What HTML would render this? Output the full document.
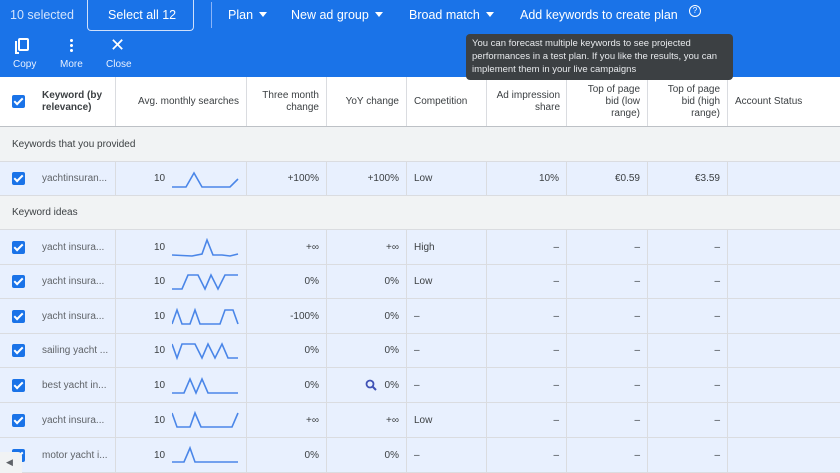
<!DOCTYPE html>
<html><head><meta charset="utf-8"><style>
*{box-sizing:border-box;margin:0;padding:0}
body{width:840px;height:473px;overflow:hidden;font-family:"Liberation Sans",Arial,sans-serif;background:#fff;position:relative;color:#3c4043}
.top{position:absolute;left:0;top:0;width:840px;height:77px;background:#1a73e8;color:#fff}
.top span{position:absolute;font-size:12.5px}
.tri{display:inline-block;width:0;height:0;border-left:4px solid transparent;border-right:4px solid transparent;border-top:5px solid #fff;margin-left:6px;vertical-align:2px}
.sel{position:absolute;left:87px;top:0;width:107px;height:31px;border:1px solid #cfe0fb;border-top:none;border-radius:0 0 4px 4px}
.top .ico{font-size:10px;color:#e8f0fe;text-align:center}
.tip{position:absolute;left:466px;top:34px;width:267px;height:46px;background:#3c4043;border-radius:4px;color:#e8eaed;font-size:9.5px;line-height:13px;padding:3px 6px;z-index:5}
.row{position:absolute;left:0;width:840px;display:flex;border-bottom:1px solid #dadce0}
.row>div{flex:none;border-right:1px solid #dadce0;font-size:10px;display:flex;align-items:center;padding:0 7px;position:relative;white-space:nowrap}
.hdr>div{white-space:normal}
.r{justify-content:flex-end}
.hdr div{font-size:10px;color:#3c4043;line-height:12px}
.w0{width:116px}.w1{width:131px}.w2{width:80px}.w3{width:80px}.w4{width:80px}.w5{width:80px}.w6{width:81px}.w7{width:80px}.w8{width:112px;border-right:none!important}
.cb{position:absolute;left:12px;width:13px;height:13px;background:#1a73e8;border-radius:2px}
.cb:after{content:"";position:absolute;left:4px;top:1px;width:3px;height:7px;border:solid #fff;border-width:0 2px 2px 0;transform:rotate(45deg)}
.sec{position:absolute;left:0;width:840px;background:#f1f3f4;font-size:10px;padding-left:12px;display:flex;align-items:center;border-bottom:1px solid #dadce0}
.blue{background:#e8f0fe}
.kw{padding-left:42px!important;color:#5f6368}
.num{position:absolute;left:38px;font-size:10px}
svg.sp{position:absolute;left:172px}
</style></head><body>
<div class="top">
<span style="left:10px;top:8px;color:#d2e3fc">10 selected</span>
<div class="sel"></div>
<span style="left:108px;top:8px">Select all 12</span>
<div style="position:absolute;left:211px;top:2px;width:1px;height:26px;background:#8ab4f8"></div>
<span style="left:228px;top:8px">Plan<i class="tri"></i></span>
<span style="left:291px;top:8px">New ad group<i class="tri"></i></span>
<span style="left:409px;top:8px">Broad match<i class="tri"></i></span>
<span style="left:520px;top:8px">Add keywords to create plan</span>
<span style="left:689px;top:5px;width:12px;height:12px;border:1.3px solid #fff;border-radius:50%;font-size:8px;text-align:center;line-height:10px">?</span>
<div style="position:absolute;left:18px;top:38px;width:11px;height:13px;border:2px solid #fff;border-radius:2px"></div>
<div style="position:absolute;left:15px;top:41px;width:4px;height:13px;border-left:2px solid #fff;border-bottom:2px solid #fff"></div>
<div style="position:absolute;left:70px;top:38px;width:3px;height:14px;background:radial-gradient(circle,#fff 1.4px,transparent 1.6px) 0 0/3px 5px"></div>
<span style="left:110px;top:35px;font-size:18px">✕</span>
<span class="ico" style="left:13px;top:59px">Copy</span>
<span class="ico" style="left:60px;top:59px">More</span>
<span class="ico" style="left:106px;top:59px">Close</span>
</div>
<div class="tip">You can forecast multiple keywords to see projected performances in a test plan. If you like the results, you can implement them in your live campaigns</div>

<div class="row hdr" style="top:77px;height:50px;border-bottom:1.5px solid #bdc1c6">
<div class="w0" style="padding-left:42px;font-weight:bold"><i class="cb" style="top:18px"></i>Keyword (by relevance)</div>
<div class="w1 r">Avg. monthly searches</div>
<div class="w2 r" style="text-align:right">Three month change</div>
<div class="w3 r">YoY change</div>
<div class="w4">Competition</div>
<div class="w5 r" style="text-align:right;padding:0 6px">Ad impression share</div>
<div class="w6 r" style="text-align:right">Top of page bid (low range)</div>
<div class="w7 r" style="text-align:right">Top of page bid (high range)</div>
<div class="w8">Account Status</div>
</div>
<div class="sec" style="top:127px;height:35px">Keywords that you provided</div>
<div class="row blue" style="top:162px;height:34px">
<div class="w0 kw"><i class="cb"></i>yachtinsuran...</div><div class="w1"><span class="num">10</span></div><div class="w2 r">+100%</div><div class="w3 r">+100%</div><div class="w4">Low</div><div class="w5 r">10%</div><div class="w6 r">€0.59</div><div class="w7 r">€3.59</div><div class="w8"></div>
</div>
<svg class="sp" style="top:169px" width="67" height="21"><polyline fill="none" stroke="#4a86e8" stroke-width="1.6" points="0,18 14,18 22,4 30,18 58,18 66,10"/></svg>
<div class="sec" style="top:196px;height:34px">Keyword ideas</div>

<div class="row blue" style="top:230px;height:35px"><div class="w0 kw"><i class="cb"></i>yacht insura...</div><div class="w1"><span class="num">10</span></div><div class="w2 r">+∞</div><div class="w3 r">+∞</div><div class="w4">High</div><div class="w5 r">–</div><div class="w6 r">–</div><div class="w7 r">–</div><div class="w8"></div></div>
<div class="row blue" style="top:265px;height:34px"><div class="w0 kw"><i class="cb"></i>yacht insura...</div><div class="w1"><span class="num">10</span></div><div class="w2 r">0%</div><div class="w3 r">0%</div><div class="w4">Low</div><div class="w5 r">–</div><div class="w6 r">–</div><div class="w7 r">–</div><div class="w8"></div></div>
<div class="row blue" style="top:299px;height:35px"><div class="w0 kw"><i class="cb"></i>yacht insura...</div><div class="w1"><span class="num">10</span></div><div class="w2 r">-100%</div><div class="w3 r">0%</div><div class="w4">–</div><div class="w5 r">–</div><div class="w6 r">–</div><div class="w7 r">–</div><div class="w8"></div></div>
<div class="row blue" style="top:334px;height:34px"><div class="w0 kw"><i class="cb"></i>sailing yacht ...</div><div class="w1"><span class="num">10</span></div><div class="w2 r">0%</div><div class="w3 r">0%</div><div class="w4">–</div><div class="w5 r">–</div><div class="w6 r">–</div><div class="w7 r">–</div><div class="w8"></div></div>
<div class="row blue" style="top:368px;height:35px"><div class="w0 kw"><i class="cb"></i>best yacht in...</div><div class="w1"><span class="num">10</span></div><div class="w2 r">0%</div><div class="w3 r"><svg width="12" height="12" style="margin-right:8px"><circle cx="5" cy="5" r="3.5" fill="none" stroke="#3f51b5" stroke-width="1.8"/><line x1="7.5" y1="7.5" x2="11" y2="11" stroke="#3f51b5" stroke-width="2"/></svg>0%</div><div class="w4">–</div><div class="w5 r">–</div><div class="w6 r">–</div><div class="w7 r">–</div><div class="w8"></div></div>
<div class="row blue" style="top:403px;height:35px"><div class="w0 kw"><i class="cb"></i>yacht insura...</div><div class="w1"><span class="num">10</span></div><div class="w2 r">+∞</div><div class="w3 r">+∞</div><div class="w4">Low</div><div class="w5 r">–</div><div class="w6 r">–</div><div class="w7 r">–</div><div class="w8"></div></div>
<div class="row blue" style="top:438px;height:35px"><div class="w0 kw"><i class="cb"></i>motor yacht i...</div><div class="w1"><span class="num">10</span></div><div class="w2 r">0%</div><div class="w3 r">0%</div><div class="w4">–</div><div class="w5 r">–</div><div class="w6 r">–</div><div class="w7 r">–</div><div class="w8"></div></div>

<svg class="sp" style="top:238px" width="67" height="21"><polyline fill="none" stroke="#4a86e8" stroke-width="1.6" points="0,17 20,18 30,16 35,2 41,17 50,17 58,18 66,16"/></svg>
<svg class="sp" style="top:272px" width="67" height="21"><polyline fill="none" stroke="#4a86e8" stroke-width="1.6" points="0,17 10,17 16,3 26,3 33,17 39,3 46,17 53,3 66,3"/></svg>
<svg class="sp" style="top:307px" width="67" height="21"><polyline fill="none" stroke="#4a86e8" stroke-width="1.6" points="0,17 5,3 10,17 18,17 23,3 28,17 48,17 53,3 61,3 66,17"/></svg>
<svg class="sp" style="top:341px" width="67" height="21"><polyline fill="none" stroke="#4a86e8" stroke-width="1.6" points="0,3 5,17 10,3 23,3 30,17 36,3 43,17 50,3 56,17 66,17"/></svg>
<svg class="sp" style="top:376px" width="67" height="21"><polyline fill="none" stroke="#4a86e8" stroke-width="1.6" points="0,17 12,17 18,3 24,17 30,3 36,17 66,17"/></svg>
<svg class="sp" style="top:410px" width="67" height="21"><polyline fill="none" stroke="#4a86e8" stroke-width="1.6" points="0,3 5,17 18,17 23,3 29,17 60,17 66,3"/></svg>
<svg class="sp" style="top:445px" width="67" height="21"><polyline fill="none" stroke="#4a86e8" stroke-width="1.6" points="0,17 12,17 18,3 23,17 66,17"/></svg>
<div style="position:absolute;left:0;top:452px;width:22px;height:21px;background:#f1f3f4;border-radius:0 4px 0 0;color:#5f6368;font-size:9px;line-height:21px;padding-left:6px">◀</div>
</body></html>
